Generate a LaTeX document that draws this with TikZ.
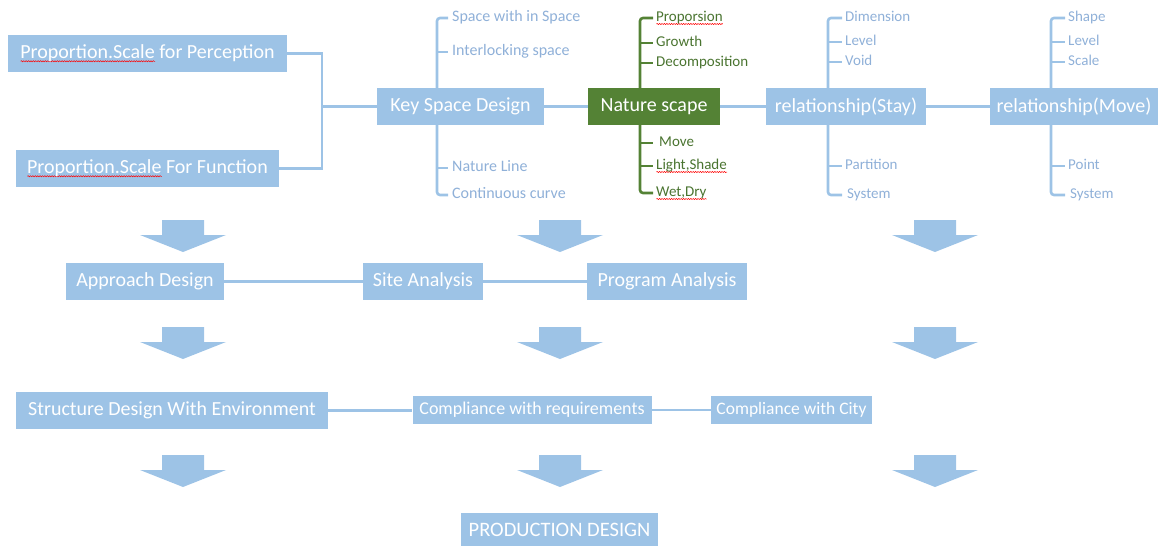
\documentclass[tikz,border=0pt]{standalone}
\usepackage{fontspec}
\setmainfont{Carlito}
\usetikzlibrary{decorations.pathmorphing}
\definecolor{bl}{HTML}{9DC3E6}
\definecolor{bltext}{HTML}{8FB0D8}
\definecolor{gr}{HTML}{548235}
\definecolor{grtext}{HTML}{4A7430}
\tikzset{
 box/.style={fill=bl, text=white, inner sep=0pt, font=\fontsize{20}{23}\selectfont, minimum height=37pt},
 gbox/.style={box, fill=gr},
 sbox/.style={box, minimum height=28pt, font=\fontsize{17.5}{20}\selectfont},
 item/.style={anchor=west, inner sep=0pt, text=bltext, text height=9pt, text depth=2pt, font=\fontsize{15}{18}\selectfont},
 kitem/.style={item, font=\fontsize{16}{19}\selectfont},
 gitem/.style={item, text=grtext},
 link/.style={draw=bl, line width=2.6pt},
 twig/.style={draw=bl, line width=2.6pt, rounded corners=3pt},
 gtwig/.style={twig, draw=gr},
 squig/.style={draw=red, line width=0.5pt, decorate, decoration={snake, amplitude=0.6pt, segment length=2.4pt}},
 dnarrow/.pic={\fill[bl] (-21,0) -- (21,0) -- (21,15) -- (43,15) -- (0,32) -- (-43,15) -- (-21,15) -- cycle;}
}
\newlength\sqlen
\newcommand\sqw[1]{\settowidth\sqlen{#1}\rlap{\tikz[baseline=0pt]\draw[squig] (0pt,-2.5pt) -- (\sqlen,-2.5pt);}#1}
\begin{document}
\begin{tikzpicture}[x=1pt,y=-1pt]
\useasboundingbox (0,0) rectangle (1165,546);
% top row boxes
\node[box, minimum width=279pt] (perc) at (147.5,53.5) {\sqw{Proportion.Scale} for Perception};
\node[box, minimum width=263pt] (func) at (147.5,168.5) {\sqw{Proportion.Scale} For Function};
\node[box, minimum width=167pt] (key) at (460.5,106.5) {Key Space Design};
\node[gbox, minimum width=132pt] (nat) at (654,106.5) {Nature scape};
\node[box, minimum width=160pt] (stay) at (846,106.5) {relationship(Stay)};
\node[box, minimum width=168pt] (move) at (1074,106.5) {relationship(Move)};
\coordinate (brk) at (322,106.5);
\draw[link] (perc.east) -| (brk) |- (func.east);
\draw[link] (brk) -- (key.west);
\draw[link] (key.east) -- (nat.west);
\draw[link] (nat.east) -- (stay.west);
\draw[link] (stay.east) -- (move.west);
% key space branches
\node[kitem] (k1) at (452,18) {Space with in Space};
\node[kitem] (k2) at (452,52) {Interlocking space};
\node[kitem] (k3) at (452,168) {Nature Line};
\node[kitem] (k4) at (452,195) {Continuous curve};
\coordinate (kx) at (437,0);
\draw[twig] (key.north -| kx) |- ([xshift=-4pt]k1.west);
\draw[twig] (k2.west -| kx) -- ([xshift=-4pt]k2.west);
\draw[twig] (key.south -| kx) |- ([xshift=-4pt]k4.west);
\draw[twig] (k3.west -| kx) -- ([xshift=-4pt]k3.west);
% nature branches
\node[gitem] (n1) at (656,18) {\sqw{Proporsion}};
\node[gitem] (n2) at (656,43) {Growth};
\node[gitem] (n3) at (656,63) {Decomposition};
\node[gitem] (n4) at (659,143) {Move};
\node[gitem] (n5) at (656,166) {\sqw{Light,Shade}};
\node[gitem] (n6) at (656,193) {\sqw{Wet,Dry}};
\coordinate (nx) at (640,0);
\draw[gtwig] (nat.north -| nx) |- ([xshift=-3pt]n1.west);
\draw[gtwig] (n2.west -| nx) -- ([xshift=-3pt]n2.west);
\draw[gtwig] (n3.west -| nx) -- ([xshift=-3pt]n3.west);
\draw[gtwig] (nat.south -| nx) |- ([xshift=-3pt]n6.west);
\draw[gtwig] (n4.west -| nx) -- ([xshift=-6pt]n4.west);
\draw[gtwig] (n5.west -| nx) -- ([xshift=-3pt]n5.west);
% stay branches
\node[item] (s1) at (845,18) {Dimension};
\node[item] (s2) at (845,42) {Level};
\node[item] (s3) at (845,62) {Void};
\node[item] (s4) at (845,166) {Partition};
\node[item] (s5) at (847,195) {System};
\coordinate (sx) at (828,0);
\draw[twig] (stay.north -| sx) |- ([xshift=-3pt]s1.west);
\draw[twig] (s2.west -| sx) -- ([xshift=-3pt]s2.west);
\draw[twig] (s3.west -| sx) -- ([xshift=-3pt]s3.west);
\draw[twig] (stay.south -| sx) |- ([xshift=-5pt]s5.west);
\draw[twig] (s4.west -| sx) -- ([xshift=-3pt]s4.west);
% move branches
\node[item] (m1) at (1068,18) {Shape};
\node[item] (m2) at (1068,42) {Level};
\node[item] (m3) at (1068,62) {Scale};
\node[item] (m4) at (1068,166) {Point};
\node[item] (m5) at (1070,195) {System};
\coordinate (mx) at (1051,0);
\draw[twig] (move.north -| mx) |- ([xshift=-3pt]m1.west);
\draw[twig] (m2.west -| mx) -- ([xshift=-3pt]m2.west);
\draw[twig] (m3.west -| mx) -- ([xshift=-3pt]m3.west);
\draw[twig] (move.south -| mx) |- ([xshift=-5pt]m5.west);
\draw[twig] (m4.west -| mx) -- ([xshift=-3pt]m4.west);
% arrows
\foreach \ax in {183,560,935}
  \foreach \ay in {220,327,455}
    \pic at (\ax,\ay) {dnarrow};
% lower rows
\node[box, minimum width=158pt] (app) at (145,281.5) {Approach Design};
\node[box, minimum width=120pt] (site) at (423,281.5) {Site Analysis};
\node[box, minimum width=160pt] (prog) at (667,281.5) {Program Analysis};
\draw[link] (app.east) -- (site.west);
\draw[link] (site.east) -- (prog.west);
\node[box, minimum width=312pt] (struct) at (172,410.5) {Structure Design With Environment};
\node[sbox, minimum width=239pt, font=\fontsize{18}{21}\selectfont] (req) at (532,410) {Compliance with requirements};
\node[sbox, minimum width=161pt] (city) at (791.5,410) {Compliance with City};
\draw[link] (struct.east) -- (struct.east -| req.west);
\draw[link] (req.east) -- (city.west);
\node[box, minimum width=197pt, minimum height=33pt, font=\fontsize{20.5}{23}\selectfont] (prod) at (559.5,529.5) {PRODUCTION DESIGN};
\end{tikzpicture}
\end{document}
